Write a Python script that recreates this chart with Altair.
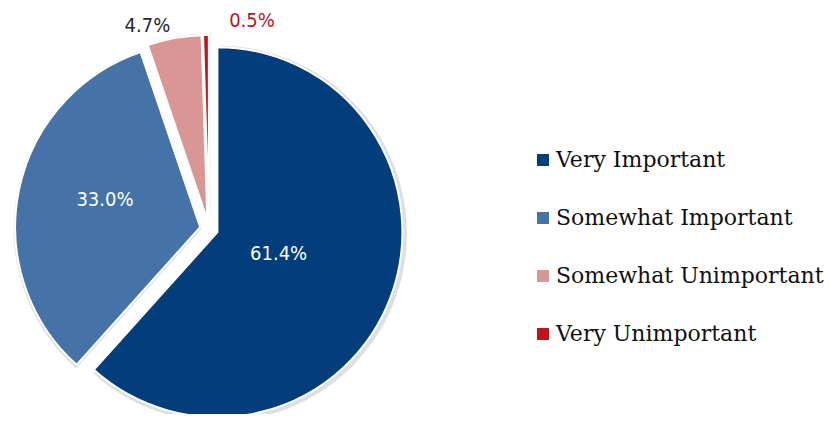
import altair as alt
import pandas as pd

categories = ["Very Important", "Somewhat Important", "Somewhat Unimportant", "Very Unimportant"]
values = [61.4, 33.0, 4.7, 0.5]
labels = ["61.4%", "33.0%", "4.7%", "0.5%"]
colors = ["#033d7c", "#4572a7", "#d99694", "#c0141c"]
label_colors = ["#ffffff", "#ffffff", "#262626", "#c0141c"]

df = pd.DataFrame({
    "cat": categories,
    "val": values,
    "lab": labels,
    "lcol": label_colors,
    "idx": list(range(len(categories))),
})

CX, CY, R, EXPLODE = 201, 221, 185, 9

base = alt.Chart(df).transform_window(
    cum="sum(val)", sort=[alt.SortField("idx")]
).transform_joinaggregate(
    total="sum(val)"
).transform_calculate(
    start="(datum.cum - datum.val) / datum.total * 2 * PI",
    end="datum.cum / datum.total * 2 * PI",
).transform_calculate(
    mid="(datum.start + datum.end) / 2"
).transform_calculate(
    cx=f"{CX} + {EXPLODE} * sin(datum.mid)",
    cy=f"{CY} - {EXPLODE} * cos(datum.mid)",
    lr="datum.idx == 0 ? 74 : datum.idx == 1 ? 108 : 212",
    nudge="datum.idx == 3 ? 0.22 : datum.idx == 2 ? -0.115 : datum.idx == 1 ? 0.07 : -0.02",
).transform_calculate(
    lx=f"{CX} + datum.lr * sin(datum.mid + datum.nudge)",
    ly=f"{CY} - datum.lr * cos(datum.mid + datum.nudge)",
)

color_scale = alt.Scale(domain=categories, range=colors)

shadow = base.mark_arc(outerRadius=R + 3, fill="#7f7f7f", opacity=0.25).encode(
    theta=alt.Theta("start:Q", scale=None),
    theta2="end:Q",
    x=alt.X("sx:Q", scale=None),
    y=alt.Y("sy:Q", scale=None),
).transform_calculate(sx="datum.cx + 1.5", sy="datum.cy + 1.5")

arcs = base.mark_arc(outerRadius=R, stroke="white", strokeWidth=2).encode(
    theta=alt.Theta("start:Q", scale=None),
    theta2="end:Q",
    x=alt.X("cx:Q", scale=None),
    y=alt.Y("cy:Q", scale=None),
    color=alt.Color(
        "cat:N",
        scale=color_scale,
        sort=categories,
        legend=alt.Legend(
            title=None,
            orient="none",
            legendX=524,
            legendY=141,
            symbolType="square",
            symbolSize=144,
            symbolStrokeWidth=0,
            labelFont="DejaVu Serif",
            labelFontSize=22,
            labelColor="#111111",
            labelOffset=2,
            rowPadding=36,
            labelLimit=400,
            padding=0,
        ),
    ),
)

text = base.mark_text(
    font="DejaVu Sans Condensed, Liberation Sans Narrow, sans-serif",
    fontSize=20,
    align="center",
    baseline="middle",
).encode(
    x=alt.X("lx:Q", scale=None),
    y=alt.Y("ly:Q", scale=None),
    text="lab:N",
    color=alt.Color("lcol:N", scale=None),
)

chart = alt.layer(shadow, arcs, text).properties(
    width=820, height=406, autosize=alt.AutoSizeParams(type="none"), padding=0
).configure(background="white").configure_view(stroke=None)

chart.save("out.html", embed_options={"renderer": "svg", "actions": False})
